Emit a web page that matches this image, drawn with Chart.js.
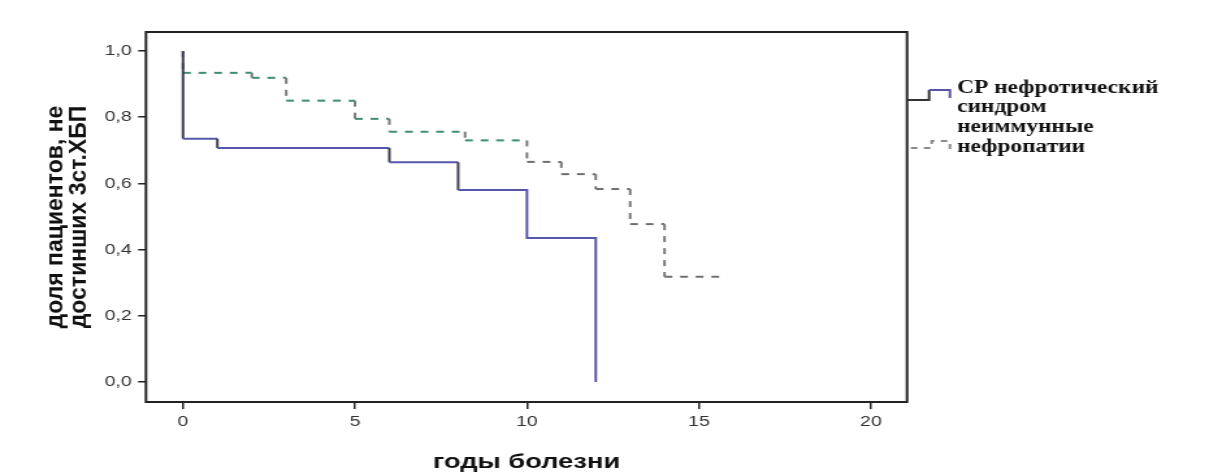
<!DOCTYPE html>
<html lang="ru">
<head>
<meta charset="utf-8">
<title>годы болезни</title>
<script src="https://cdn.jsdelivr.net/npm/chart.js@4/dist/chart.umd.min.js"></script>
<style>
    html, body { margin: 0; padding: 0; background: #fff; overflow: hidden; }
    /* the whole figure is drawn narrow and widened horizontally */
    #wrap { width: 931px; height: 474px; transform: scaleX(1.3); transform-origin: 0 0; }
</style>
</head>
<body>
<div id="wrap"><canvas id="kmChart"></canvas></div>
<script>
// Kaplan-Meier: share of patients who have not reached CKD stage 3
const cpEventYears = [0, 1, 6, 8, 10, 12];
const cpSurvival = [0.735, 0.707, 0.664, 0.58, 0.435, 0];

const nonImmuneEventYears = [0, 2, 3, 5, 6, 8.2, 10, 11, 12, 13, 14];
const nonImmuneSurvival = [0.934, 0.919, 0.85, 0.795, 0.756, 0.73, 0.665, 0.628, 0.583, 0.477, 0.318];
const nonImmuneLastFollowUp = 15.7;

const xTickValues = [0, 5, 10, 15, 20];
const yTickValues = [0, 0.2, 0.4, 0.6, 0.8, 1.0];

const legendCP = ['СР нефротический', 'синдром'];
const legendNonImmune = ['неиммунные', 'нефропатии'];
const xTitle = 'годы болезни';
const yTitle = ['доля пациентов, не', 'достинших 3ст.ХБП'];

const STRETCH = 1.3;

document.addEventListener('DOMContentLoaded', function() {
    initializeChart();
});

function buildSteps(times, survival, lastFollowUp) {
    const points = [{ x: 0, y: 1 }];
    let prev = 1;
    times.forEach((t, i) => {
        points.push({ x: t, y: prev });
        points.push({ x: t, y: survival[i] });
        prev = survival[i];
    });
    if (lastFollowUp !== undefined) {
        points.push({ x: lastFollowUp, y: prev });
    }
    return points;
}

function isVertical(ctx) {
    return ctx.p0.parsed.x === ctx.p1.parsed.x;
}

const framePlugin = {
    id: 'frame',
    afterDatasetsDraw(chart) {
        const { ctx, chartArea } = chart;
        ctx.save();
        ctx.strokeStyle = '#222';
        ctx.lineWidth = 2;
        ctx.strokeRect(chartArea.left, chartArea.top,
            chartArea.right - chartArea.left, chartArea.bottom - chartArea.top);
        ctx.restore();
    }
};

const labelsPlugin = {
    id: 'labels',
    afterDraw(chart) {
        const { ctx, chartArea } = chart;
        ctx.save();
        ctx.fillStyle = '#111';
        ctx.textAlign = 'center';
        ctx.textBaseline = 'middle';

        // axis titles
        ctx.font = 'bold 21px "Liberation Sans", Arial, sans-serif';
        ctx.fillText(xTitle, (chartArea.left + chartArea.right) / 2, 462);

        // rotated title keeps its normal proportions (undo the page widening)
        ctx.font = 'bold 23px "Liberation Sans", Arial, sans-serif';
        const cy = (chartArea.top + chartArea.bottom) / 2;
        yTitle.forEach((line, i) => {
            ctx.save();
            ctx.translate(chartArea.left - 69.2 + i * 17.7, cy);
            ctx.scale(1 / STRETCH, 1);
            ctx.rotate(-Math.PI / 2);
            ctx.fillText(line, 0, 0);
            ctx.restore();
        });

        // legend to the right of the frame
        const lx = chartArea.right;
        ctx.lineWidth = 2;
        ctx.strokeStyle = '#333';
        ctx.beginPath();
        ctx.moveTo(lx, 100);
        ctx.lineTo(lx + 17, 100);
        ctx.lineTo(lx + 17, 90);
        ctx.stroke();
        ctx.strokeStyle = '#5656ab';
        ctx.beginPath();
        ctx.moveTo(lx + 17, 90);
        ctx.lineTo(lx + 33, 90);
        ctx.lineTo(lx + 33, 98);
        ctx.stroke();

        ctx.strokeStyle = '#8a8a8a';
        ctx.setLineDash([5, 5]);
        ctx.beginPath();
        ctx.moveTo(lx + 3, 148);
        ctx.lineTo(lx + 19, 148);
        ctx.lineTo(lx + 19, 141);
        ctx.lineTo(lx + 33, 141);
        ctx.lineTo(lx + 33, 150);
        ctx.stroke();
        ctx.setLineDash([]);

        ctx.textAlign = 'left';
        ctx.font = 'bold 18px "Liberation Serif", "DejaVu Serif", serif';
        legendCP.concat(legendNonImmune).forEach((line, i) => {
            ctx.fillText(line, lx + 38.5, 88 + i * 19.7);
        });
        ctx.restore();
    }
};

function initializeChart() {
    const canvas = document.getElementById('kmChart');
    const ctx = canvas.getContext('2d');

    const tickFont = { family: '"Liberation Sans", Arial, sans-serif', size: 15 };
    const commaFormat = v => Number(v).toFixed(1).replace('.', ',');

    window.kmChart = new Chart(ctx, {
        type: 'line',
        data: {
            datasets: [{
                label: legendCP.join(' '),
                data: buildSteps(cpEventYears, cpSurvival),
                borderWidth: 2,
                borderColor: '#5656ab',
                pointRadius: 0,
                tension: 0,
                segment: {
                    borderColor: c => isVertical(c) && c.p0.parsed.x < 9 ? '#3d3d4f' : '#5656ab'
                }
            }, {
                label: legendNonImmune.join(' '),
                data: buildSteps(nonImmuneEventYears, nonImmuneSurvival, nonImmuneLastFollowUp),
                borderWidth: 2,
                borderColor: '#6f6f6f',
                borderDash: [6, 6],
                pointRadius: 0,
                tension: 0,
                segment: {
                    borderColor: c => {
                        if (isVertical(c)) return '#7a7a7a';
                        return c.p0.parsed.x < 9 ? '#3f8d70' : '#6f6f6f';
                    }
                }
            }]
        },
        options: {
            responsive: true,
            maintainAspectRatio: false,
            animation: false,
            devicePixelRatio: 1,
            layout: {
                padding: { left: 0, top: 32, right: 233.3, bottom: 0 }
            },
            plugins: {
                legend: { display: false },
                tooltip: { enabled: false }
            },
            scales: {
                x: {
                    type: 'linear',
                    min: -1.076,
                    max: 21.05,
                    afterBuildTicks: scale => {
                        scale.ticks = xTickValues.map(v => ({ value: v }));
                    },
                    afterFit: scale => { scale.height = 72; },
                    grid: {
                        display: true,
                        drawOnChartArea: false,
                        drawTicks: true,
                        tickLength: 7,
                        color: '#222',
                        lineWidth: 1.5
                    },
                    border: { display: false },
                    ticks: {
                        font: tickFont,
                        color: '#333',
                        padding: 4,
                        maxRotation: 0,
                        callback: v => String(v)
                    }
                },
                y: {
                    type: 'linear',
                    min: -0.0604,
                    max: 1.0574,
                    afterBuildTicks: scale => {
                        scale.ticks = yTickValues.map(v => ({ value: v }));
                    },
                    afterFit: scale => { scale.width = 112.3; },
                    grid: {
                        display: true,
                        drawOnChartArea: false,
                        drawTicks: true,
                        tickLength: 6,
                        color: '#222',
                        lineWidth: 1.5
                    },
                    border: { display: false },
                    ticks: {
                        font: tickFont,
                        color: '#333',
                        padding: 5,
                        callback: commaFormat
                    }
                }
            }
        },
        plugins: [framePlugin, labelsPlugin]
    });
}
</script>
</body>
</html>
